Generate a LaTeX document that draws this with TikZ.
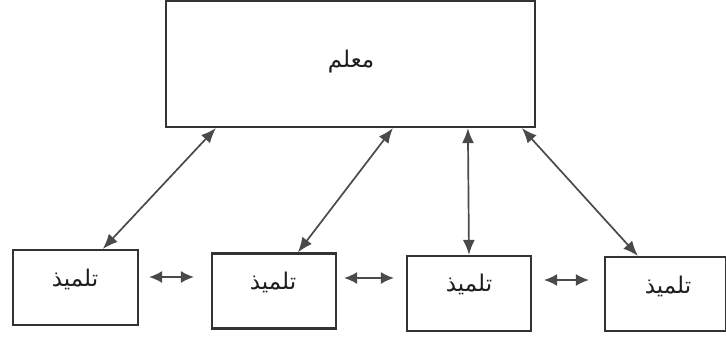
\documentclass[tikz,border=0pt]{standalone}
\usepackage{fontspec}
\newfontfamily\arabicfont[Script=Arabic]{DejaVu Sans}
\TeXXeTstate=1
\usetikzlibrary{arrows.meta,calc}
\definecolor{boxline}{HTML}{333333}
\definecolor{arrline}{HTML}{4A4A4A}
\definecolor{txt}{HTML}{1E1E1E}
\tikzset{
  box/.style={draw=boxline, line width=2.2pt, rectangle, inner sep=0pt, fill=white},
  arabtxt/.style={text=txt, font=\arabicfont\fontsize{23}{26}\selectfont},
  link/.style={draw=arrline, line width=1.7pt, {Latex[length=15pt,width=12pt]}-{Latex[length=15pt,width=12pt]}},
  hlink/.style={draw=arrline, line width=1.6pt, {Latex[length=13pt,width=12pt]}-{Latex[length=13pt,width=12pt]}},
}
\begin{document}
\begin{tikzpicture}[x=1pt,y=-1pt]
\useasboundingbox[fill=white] (0,0) rectangle (726,342);
% teacher box
\node[box, minimum width=369pt, minimum height=126pt] (t) at (350.5,64) {};
\node[arabtxt] (tt) at (351,62) {\beginR معلم\endR};
% pupil boxes
\node[box, minimum width=125pt, minimum height=75pt] (b1) at (75.5,287.5) {};
\node[box, minimum width=124pt, minimum height=75pt] (b2) at (274,291) {};
\node[box, minimum width=124pt, minimum height=75pt] (b3) at (469,293.5) {};
\node[box, minimum width=121pt, minimum height=74pt] (b4) at (665.5,294) {};
\node[arabtxt] (l1) at (75,279) {\beginR تلميذ\endR};
\node[arabtxt] (l2) at (273,282) {\beginR تلميذ\endR};
\node[arabtxt] (l3) at (469,284) {\beginR تلميذ\endR};
\node[arabtxt] (l4) at (668,286) {\beginR تلميذ\endR};
% connectors teacher - pupils
\coordinate (s1) at ([xshift=51pt]t.south west);
\coordinate (s2) at ([xshift=228pt]t.south west);
\coordinate (s3) at ([xshift=303pt]t.south west);
\coordinate (s4) at ([xshift=357pt]t.south west);
\coordinate (e1) at ([xshift=91pt]b1.north west);
\coordinate (e2) at ([xshift=87pt]b2.north west);
\coordinate (e3) at (b3.north);
\coordinate (e4) at ([xshift=34pt]b4.north west);
\draw[link] (s1) -- (e1);
\draw[link] (s2) -- (e2);
\draw[link] (s3 |- t.south) -- (e3);
\draw[link] (s4) -- (e4);
% connectors between pupils
\coordinate (h1a) at ([xshift=10pt,yshift=10.5pt]b1.east);
\coordinate (h1b) at ([xshift=-17pt]b2.west);
\coordinate (h2a) at ([xshift=7pt,yshift=13pt]b2.east);
\coordinate (h2b) at ([xshift=-12pt]b3.west);
\coordinate (h3a) at ([xshift=12pt,yshift=13.5pt]b3.east);
\coordinate (h3b) at ([xshift=-15pt]b4.west);
\draw[hlink] (h1a) -- (h1a -| h1b);
\draw[hlink] (h2a) -- (h2a -| h2b);
\draw[hlink] (h3a) -- (h3a -| h3b);
\end{tikzpicture}
\end{document}
